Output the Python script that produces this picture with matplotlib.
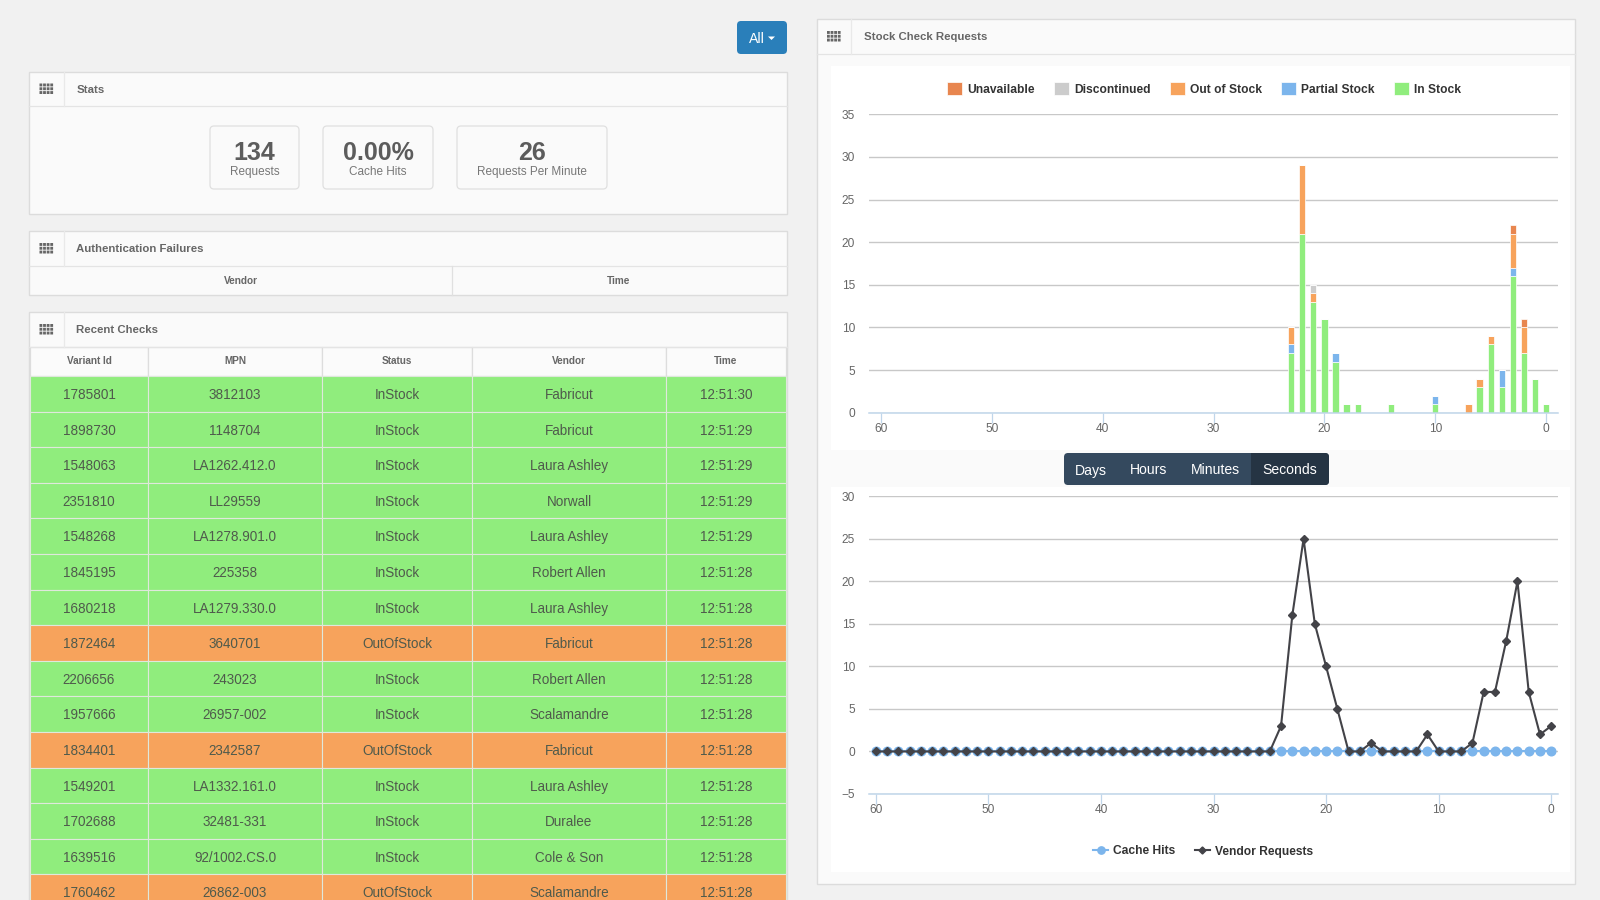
import matplotlib.pyplot as plt
from matplotlib.patches import FancyBboxPatch

plt.rcParams['font.family'] = ['Liberation Sans', 'DejaVu Sans']

PAGE_W = 1600
PAGE_H = 900
PT = 0.72  # points per pixel at dpi 100

GREEN = '#90ed7d'
ORANGE = '#f7a35c'
BLUE = '#7cb5ec'
DARK = '#434348'
GREY = '#cccccc'
BURNT = '#e8864f'
AXIS = '#c0d6ea'

'''Function to make axes from pixel positions of the page'''
def pixel_axes(x0, y0, x1, y1):
    return plt.axes([x0 / PAGE_W, 1 - y1 / PAGE_H, (x1 - x0) / PAGE_W, (y1 - y0) / PAGE_H], facecolor='none')


def rect(x0, y0, x1, y1, face, edge='none', lw=1.0, snap=None):
    plt.gca().add_patch(plt.Rectangle((x0, y0), x1 - x0, y1 - y0, facecolor=face, edgecolor=edge, linewidth=lw, snap=snap))


def rounded(x0, y0, x1, y1, face, edge='none', r=4):
    plt.gca().add_patch(FancyBboxPatch((x0 + r, y0 + r), x1 - x0 - 2 * r, y1 - y0 - 2 * r,
                                       boxstyle='round,pad=%d,rounding_size=%d' % (r, r),
                                       facecolor=face, edgecolor=edge, linewidth=0.9))


def label(x, y, text, size, color='#555555', weight='normal', ha='center'):
    plt.text(x, y, text, fontsize=size * PT, color=color, fontweight=weight, ha=ha, va='center_baseline')


def panel(x0, y0, x1, y1, head_y, title, divider, title_x):
    rect(x0, y0, x1, y1, '#fafafa', '#dcdcdc', 1.0)
    plt.plot([x0, x1], [head_y, head_y], color='#e4e4e4', linewidth=0.9)
    plt.plot([divider, divider], [y0, head_y], color='#e9e9e9', linewidth=0.9)
    # the little grid icon
    cx = (x0 + divider) / 2
    cy = (y0 + head_y) / 2
    for col in range(4):
        for row in range(3):
            rect(cx - 7 + col * 3.6, cy - 5.5 + row * 3.8, cx - 7 + col * 3.6 + 2.8, cy - 5.5 + row * 3.8 + 2.9, '#666666', snap=False)
    label(title_x, cy - 0.4, title, 11.4, '#666666', 'bold', ha='left')


def draw_page():
    pixel_axes(0, 0, PAGE_W, PAGE_H)
    plt.xlim(0, PAGE_W)
    plt.ylim(PAGE_H, 0)
    plt.axis('off')
    rect(0, 0, PAGE_W, PAGE_H, '#f1f1f1')

    # button on top
    rounded(737, 21, 787, 54, '#2a7fba')
    label(757, 37.5, 'All', 14, 'white')
    plt.gca().add_patch(plt.Polygon([[768, 36.5], [775, 36.5], [771.5, 40]], facecolor='white', edgecolor='none'))

    # stats
    panel(29, 72, 787, 214, 106, 'Stats', 64, 77)
    stats = [[210, 299, '134', 'Requests'], [323, 433, '0.00%', 'Cache Hits'], [457, 607, '26', 'Requests Per Minute']]
    for s in stats:
        rounded(s[0], 126, s[1], 189, '#fafafa', '#e0e0e0')
        label((s[0] + s[1]) / 2, 151, s[2], 25, '#5c5c5c', 'bold')
        label((s[0] + s[1]) / 2, 170.5, s[3], 11.8, '#777777')

    # authentication failures
    panel(29, 231, 787, 295, 266, 'Authentication Failures', 64, 76)
    plt.plot([452, 452], [266, 295], color='#e0e0e0', linewidth=0.9)
    label(241, 280, 'Vendor', 10, '#666666', 'bold')
    label(619, 280, 'Time', 10, '#666666', 'bold')

    # recent checks
    panel(29, 312, 787, 900 + 20, 347, 'Recent Checks', 64, 76)
    edges = [30, 148, 322, 472, 666, 786]
    headers = ['Variant Id', 'MPN', 'Status', 'Vendor', 'Time']
    for i in range(5):
        rect(edges[i], 347, edges[i + 1], 376, '#fbfbfb', '#dddddd', 0.9)
        label((edges[i] + edges[i + 1]) / 2, 360.5, headers[i], 10, '#666666', 'bold')

    rows = [
        ['1785801', '3812103', 'InStock', 'Fabricut', '12:51:30'],
        ['1898730', '1148704', 'InStock', 'Fabricut', '12:51:29'],
        ['1548063', 'LA1262.412.0', 'InStock', 'Laura Ashley', '12:51:29'],
        ['2351810', 'LL29559', 'InStock', 'Norwall', '12:51:29'],
        ['1548268', 'LA1278.901.0', 'InStock', 'Laura Ashley', '12:51:29'],
        ['1845195', '225358', 'InStock', 'Robert Allen', '12:51:28'],
        ['1680218', 'LA1279.330.0', 'InStock', 'Laura Ashley', '12:51:28'],
        ['1872464', '3640701', 'OutOfStock', 'Fabricut', '12:51:28'],
        ['2206656', '243023', 'InStock', 'Robert Allen', '12:51:28'],
        ['1957666', '26957-002', 'InStock', 'Scalamandre', '12:51:28'],
        ['1834401', '2342587', 'OutOfStock', 'Fabricut', '12:51:28'],
        ['1549201', 'LA1332.161.0', 'InStock', 'Laura Ashley', '12:51:28'],
        ['1702688', '32481-331', 'InStock', 'Duralee', '12:51:28'],
        ['1639516', '92/1002.CS.0', 'InStock', 'Cole & Son', '12:51:28'],
        ['1760462', '26862-003', 'OutOfStock', 'Scalamandre', '12:51:28'],
    ]
    row_h = 35.6
    for r, row in enumerate(rows):
        top = 376 + r * row_h
        color = ORANGE if row[2] == 'OutOfStock' else GREEN
        for i in range(5):
            rect(edges[i], top, edges[i + 1], top + row_h, color, '#dfe8dc', 0.8)
            label((edges[i] + edges[i + 1]) / 2, top + row_h / 2 - 0.3, row[i], 13.5, '#4f5a4c')

    # right panel
    panel(817, 19, 1575, 884, 54, 'Stock Check Requests', 851, 864)
    rect(831, 66, 1570, 450, 'white')
    rect(831, 487, 1570, 872, 'white')

    # range buttons
    rounded(1064, 453, 1329, 485, '#34495e')
    rounded(1251, 453, 1329, 485, '#253443')
    rect(1251, 453, 1258, 485, '#253443')
    for x, name in [[1091, 'Days'], [1149, 'Hours'], [1215, 'Minutes'], [1290, 'Seconds']]:
        label(x, 469, name, 14, 'white')


def style_axis(xlim, ylim, yticks):
    plt.xlim(xlim)
    plt.ylim(ylim)
    plt.xticks([60, 50, 40, 30, 20, 10, 0])
    plt.yticks(yticks)
    plt.grid(True, axis='y', color='#c8c8c8', linewidth=1.0)
    plt.gca().set_axisbelow(True)
    for side in ['top', 'right', 'left']:
        plt.gca().spines[side].set_visible(False)
    plt.gca().spines['bottom'].set_color(AXIS)
    plt.gca().spines['bottom'].set_linewidth(1.1)
    plt.tick_params(axis='x', length=7, width=0.9, color=AXIS, labelsize=8.6, labelcolor='#666666', pad=0.5)
    plt.tick_params(axis='y', length=0, labelsize=8.6, labelcolor='#666666', pad=10)


def plot_bars():
    pixel_axes(869, 114.3, 1558, 412.7)
    # seconds ago, then in stock, partial, out of stock, discontinued, unavailable
    checks = [
        [23, 7, 1, 2, 0, 0],
        [22, 21, 0, 8, 0, 0],
        [21, 13, 0, 1, 1, 0],
        [20, 11, 0, 0, 0, 0],
        [19, 6, 1, 0, 0, 0],
        [18, 1, 0, 0, 0, 0],
        [17, 1, 0, 0, 0, 0],
        [14, 1, 0, 0, 0, 0],
        [10, 1, 1, 0, 0, 0],
        [7, 0, 0, 1, 0, 0],
        [6, 3, 0, 1, 0, 0],
        [5, 8, 0, 1, 0, 0],
        [4, 3, 2, 0, 0, 0],
        [3, 16, 1, 4, 0, 1],
        [2, 7, 0, 3, 0, 1],
        [1, 4, 0, 0, 0, 0],
        [0, 1, 0, 0, 0, 0],
    ]
    x_vals = [c[0] for c in checks]
    names = ['In Stock', 'Partial Stock', 'Out of Stock', 'Discontinued', 'Unavailable']
    colors = [GREEN, BLUE, ORANGE, GREY, BURNT]
    bottom = [0] * len(checks)
    for s in range(5):
        heights = [c[s + 1] for c in checks]
        plt.bar(x_vals, heights, width=0.56, bottom=bottom, color=colors[s], edgecolor='white',
                linewidth=0.5, label=names[s])
        bottom = [bottom[i] + heights[i] for i in range(len(checks))]
    style_axis((61.1, -1.08), (0, 35), [0, 5, 10, 15, 20, 25, 30, 35])

    handles, labels = plt.gca().get_legend_handles_labels()
    plt.legend(handles[::-1], labels[::-1], ncol=5, frameon=False, loc='center',
               bbox_to_anchor=(1204 / PAGE_W, 1 - 88.8 / PAGE_H), bbox_transform=plt.gcf().transFigure,
               prop={'size': 12 * PT, 'weight': 'bold'}, labelcolor='#333333', handlelength=1.25, handleheight=1.3,
               handletextpad=0.42, columnspacing=1.6)


def plot_lines():
    pixel_axes(869, 496.3, 1558, 794)
    seconds = list(range(60, -1, -1))
    cache_hits = [0] * 61
    vendor_requests = [0] * 36 + [3, 16, 25, 15, 10, 5, 0, 0, 1, 0, 0, 0, 0, 2, 0, 0, 0, 1, 7, 7, 13, 20, 7, 2, 3]

    plt.plot(seconds, cache_hits, marker='o', markersize=6.2, color=BLUE, linewidth=1.5, label='Cache Hits', clip_on=False)
    plt.plot(seconds, vendor_requests, marker='D', markersize=4.2, color=DARK, linewidth=1.5, label='Vendor Requests', clip_on=False)
    style_axis((60.6, -0.6), (-5, 30), [-5, 0, 5, 10, 15, 20, 25, 30])

    plt.legend(ncol=2, frameon=False, loc='center',
               bbox_to_anchor=(1203 / PAGE_W, 1 - 851.5 / PAGE_H), bbox_transform=plt.gcf().transFigure,
               prop={'size': 12 * PT, 'weight': 'bold'}, labelcolor='#333333', handlelength=1.25,
               handletextpad=0.42, columnspacing=1.6, markerscale=0.85)


# === RUN ===
plt.figure(figsize=(16, 9), dpi=100)
draw_page()
plot_bars()
plot_lines()
plt.savefig('out.png', dpi=100)
